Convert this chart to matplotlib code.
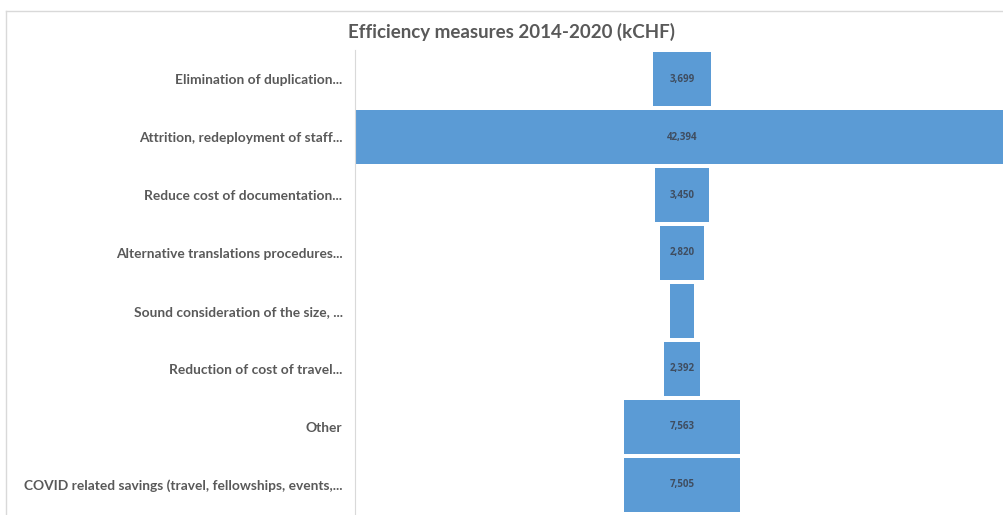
import numpy as np
import matplotlib.pyplot as plt

categories = [
    "Elimination of duplication...",
    "Attrition, redeployment of staff...",
    "Reduce cost of documentation...",
    "Alternative translations procedures...",
    "Sound consideration of the size, ...",
    "Reduction of cost of travel...",
    "Other",
    "COVID related savings (travel, fellowships, events,...",
]
values = [3699, 42394, 3450, 2820, 1620, 2392, 7563, 7505]
show_label = [True, True, True, True, False, True, True, True]

bar_color = "#5B9BD5"
text_gray = "#595959"

plt.rcParams["font.family"] = ["Lato", "DejaVu Sans"]

W, H = 1004, 515
fig = plt.figure(figsize=(W / 100, H / 100), dpi=100)

# outer chart border (Excel style)
fig.add_artist(plt.Line2D([6 / W, 1.0], [1 - 11 / H, 1 - 11 / H], color="#D9D9D9", lw=1))
fig.add_artist(plt.Line2D([6 / W, 6 / W], [0, 1 - 11 / H], color="#D9D9D9", lw=1))

# plot area: left edge at 355px, centre of funnel at ~682px
left_px, top_px, bot_px = 355, 50, 514
half = values[1] / 2
width_px = 2 * (682 - left_px)
ax = fig.add_axes([left_px / W, 1 - bot_px / H, width_px / W, (bot_px - top_px) / H])

y = np.arange(len(values))
v = np.array(values)
ax.barh(y, v, left=-v / 2, height=0.92, color=bar_color)
for i in range(len(values)):
    if show_label[i]:
        ax.text(0, y[i], f"{values[i]:,}", ha="center", va="center",
                fontsize=7, fontweight="bold", color="#3F4D60", family="Open Sans")

ax.set_xlim(-half, half)
ax.set_ylim(len(values) - 0.5, -0.5)
ax.set_yticks(y)
ax.set_yticklabels(categories, fontsize=9.9, fontweight="bold", color=text_gray)
ax.tick_params(axis="y", length=0, pad=9)
ax.set_xticks([])
for s in ["top", "right", "bottom"]:
    ax.spines[s].set_visible(False)
ax.spines["left"].set_color("#D9D9D9")

fig.text(512 / W, 1 - 32 / H, "Efficiency measures 2014-2020 (kCHF)", ha="center", va="center",
         fontsize=13.5, fontweight="bold", color=text_gray)

fig.savefig("out.png", dpi=100)
